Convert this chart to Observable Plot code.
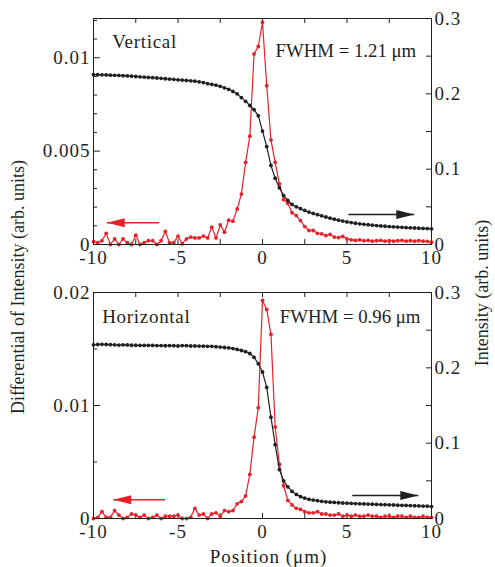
<!DOCTYPE html>
<html><head><meta charset="utf-8">
<script src="https://cdn.jsdelivr.net/npm/d3@7"></script>
<script src="https://cdn.jsdelivr.net/npm/@observablehq/plot@0.6"></script>
<style>
body{margin:0;background:#fff;}
#chart{position:relative;width:495px;height:567px;font-family:"Liberation Serif",serif;color:#231f20;overflow:hidden;}
.layer{position:absolute;left:0;}
.ylab{position:absolute;font-size:18px;white-space:nowrap;transform:translate(-50%,-50%) rotate(-90deg);}
</style></head><body><div id="chart"></div>
<script>
// ---- data ----
const positions = [-10,-9.75,-9.5,-9.25,-9,-8.75,-8.5,-8.25,-8,-7.75,-7.5,-7.25,-7,-6.75,-6.5,-6.25,-6,-5.75,-5.5,-5.25,-5,-4.75,-4.5,-4.25,-4,-3.75,-3.5,-3.25,-3,-2.75,-2.5,-2.25,-2,-1.75,-1.5,-1.25,-1,-0.75,-0.5,-0.25,0,0.25,0.5,0.75,1,1.25,1.5,1.75,2,2.25,2.5,2.75,3,3.25,3.5,3.75,4,4.25,4.5,4.75,5,5.25,5.5,5.75,6,6.25,6.5,6.75,7,7.25,7.5,7.75,8,8.25,8.5,8.75,9,9.25,9.5,9.75,10];

const vertDiff = [0.00015,0.0001,0.0002,0.0006,0.0,0.0003,0.0,0.0003,0.0001,0.0,
0.0005,0.0,0.0001,0.0002,0.0002,0.0,0.0002,0.0007,0.0001,0.0001,
0.00045,0.00004,0.0003,0.0004,0.00035,0.00035,0.00045,0.00035,0.00093,0.00035,
0.00105,0.00066,0.0013,0.00125,0.0019,0.0027,0.0044,0.0058,0.0102,0.0106,
0.0119,
0.0085,0.0056,0.0044,0.00325,0.0024,0.0022,0.0017,0.00155,0.00128,0.00096,
0.00075,0.00075,0.0006,0.00057,0.00048,0.00054,0.0004,0.00037,0.00043,0.0003,
0.00025,0.00022,0.00025,0.0002,0.00022,0.00018,0.0002,0.00022,0.00018,0.0002,
0.00018,0.0002,0.00022,0.00018,0.0002,0.00018,0.0002,0.00018,0.00017,0.00012];

const vertInt = [0.2255,0.2254,0.2252,0.2251,0.2248,0.2246,0.2244,0.2241,0.2238,0.2234,
0.2230,0.2226,0.2222,0.2218,0.2214,0.2210,0.2206,0.2200,0.2196,0.2192,
0.2186,0.2182,0.2178,0.2173,0.2168,0.2160,0.2150,0.2135,0.2125,0.2115,
0.2100,0.2080,0.2060,0.2032,0.2000,0.1950,0.1900,0.1845,0.1790,0.1710,
0.1505,
0.130,0.105,0.088,0.0753,0.065,0.0584,0.0531,0.0500,0.0475,0.0452,
0.0430,0.0412,0.0396,0.0380,0.0365,0.0350,0.0336,0.0323,0.0311,0.0300,
0.0291,0.0282,0.0275,0.0268,0.0262,0.0256,0.0251,0.0246,0.0242,0.0238,
0.0234,0.0231,0.0228,0.0225,0.0222,0.0219,0.0216,0.0213,0.0211,0.0208];

const horzDiff = [0.0000,0.0001,0.0006,0.0001,0.0001,0.0007,0.0003,0.0000,0.0001,0.0004,
0.0003,0.0001,0.0003,0.0000,0.0001,0.0003,0.0000,0.0002,0.0002,0.0002,
0.0003,0.0000,0.0000,0.0001,0.0009,0.0003,0.0004,0.0000,0.0004,0.0005,
0.0002,0.0007,0.0006,0.0007,0.0013,0.0015,0.0020,0.0039,0.0072,0.0098,
0.0193,
0.0185,0.0163,0.0081,0.0048,0.0029,0.0016,0.0012,0.0009,0.0008,0.0006,
0.0005,0.0005,0.0006,0.0004,0.0004,0.0003,0.0003,0.0004,0.0002,0.0003,
0.0002,0.0003,0.0002,0.0002,0.0003,0.0002,0.0002,0.0001,0.0002,0.0002,
0.0001,0.0002,0.0002,0.0001,0.0002,0.0001,0.0001,0.0002,0.0001,0.0001];

const horzInt = [0.2305,0.2310,0.2312,0.2310,0.2308,0.2305,0.2302,0.2305,0.2304,0.2300,
0.2300,0.2298,0.2298,0.2297,0.2298,0.2296,0.2295,0.2293,0.2295,0.2294,
0.2290,0.2295,0.2294,0.2290,0.2290,0.2289,0.2288,0.2286,0.2285,0.2280,
0.2275,0.2270,0.2265,0.2256,0.2245,0.2230,0.2215,0.2190,0.2140,0.2055,
0.1945,
0.1740,0.1345,0.0980,0.0650,0.0500,0.0420,0.0360,0.0320,0.0290,0.0270,
0.0255,0.0245,0.0236,0.0228,0.0222,0.0217,0.0213,0.0209,0.0206,0.0203,
0.0200,0.0198,0.0195,0.0193,0.0191,0.0189,0.0187,0.0185,0.0183,0.0181,
0.0179,0.0177,0.0175,0.0173,0.0171,0.0169,0.0167,0.0165,0.0163,0.0158];

const xLabelTicks = [-10,-5,0,5,10];
const xMinorTicks = [-7.5,-5,-2.5,0,2.5,5,7.5];
const vertLeftLabels = [0,0.005,0.01];
const vertLeftMajor = [0.005,0.01];
const vertLeftMinor = [0.001,0.002,0.003,0.004,0.006,0.007,0.008,0.009,0.011,0.012];
const horzLeftLabels = [0,0.01,0.02];
const horzLeftMajor = [0.01];
const horzLeftMinor = [0.005,0.015];
const rightLabels = [0,0.1,0.2,0.3];
const rightTicks = [0.05,0.1,0.15,0.2,0.25];

const vertArrows = {red:{x1:-6.12,x2:-9.22,y:0.00116}, black:{x1:5.08,x2:8.98,y:0.0398}};
const horzArrows = {red:{x1:-5.77,x2:-8.83,y:0.00165}, black:{x1:5.31,x2:9.22,y:0.0306}};

// ---- drawing ----
const RED = "#e8202a", INK = "#231f20";
const W = 495, ML = 93, MR = 64, MT = 18, PH = 226;
const PW = W - ML - MR;
const fmt = d => d < 0 ? "-" + (-d) : String(d);
const headLeft = {draw(ctx){ctx.moveTo(0,0);ctx.lineTo(18,-4.5);ctx.lineTo(18,4.5);ctx.closePath();}};
const headRight = {draw(ctx){ctx.moveTo(0,0);ctx.lineTo(-18,-4.5);ctx.lineTo(-18,4.5);ctx.closePath();}};
const style = {background:"none", overflow:"visible", fontFamily:"'Liberation Serif', serif", fontSize:"19px", color:INK};

function arrowMarks(a, color, head) {
  return [
    Plot.link([a], {x1:"x1", x2:"x2", y1:"y", y2:"y", stroke:color, strokeWidth:1.5}),
    Plot.dot([a], {x:"x2", y:"y", r:3, symbol:head, fill:color, stroke:"none"})
  ];
}

function spaceTexts(svg) {
  svg.querySelectorAll("text").forEach(t => {
    const s = t.textContent;
    t.setAttribute("letter-spacing", s.startsWith("FWHM") ? "0" : (s === "Vertical" || s === "Horizontal") ? "0.7" : "1");
  });
}

function panel(top, H, o) {
  const MB = H - MT - PH;
  const rows = positions.map((x, i) => ({x, d:o.diff[i], v:o.int[i]}));
  const common = {width:W, height:H, marginLeft:ML, marginRight:MR, marginTop:MT, marginBottom:MB, style};
  const left = Plot.plot({
    ...common,
    x:{domain:[-10,10]}, y:{domain:[0,o.leftMax]},
    marks:[
      Plot.tickX(xMinorTicks, {x:d=>d, stroke:INK, insetBottom:PH-5}),
      Plot.tickX(xMinorTicks, {x:d=>d, stroke:INK, insetTop:PH-5}),
      Plot.tickY(o.leftMinor, {y:d=>d, stroke:INK, insetRight:PW-4}),
      Plot.tickY(o.leftMajor, {y:d=>d, stroke:INK, insetRight:PW-7}),
      Plot.axisX({ticks:xLabelTicks, tickSize:0, tickPadding:6, tickFormat:fmt, label:null}),
      Plot.axisY({ticks:o.leftLabels, tickSize:0, tickPadding:3, tickFormat:fmt, label:null}),
      Plot.line(rows, {x:"x", y:"d", stroke:RED, strokeWidth:1.2}),
      Plot.dot(rows, {x:"x", y:"d", r:1.9, fill:RED}),
      ...arrowMarks(o.arrows.red, RED, headLeft),
      Plot.text([o.name], {text:d=>d, frameAnchor:"top-left", textAnchor:"start", lineAnchor:"bottom", dx:o.nameDx, dy:o.nameDy, fontSize:19, fill:INK}),
      Plot.text([o.fwhm], {text:d=>d, frameAnchor:"top-left", textAnchor:"start", lineAnchor:"bottom", dx:o.fwhmDx, dy:o.fwhmDy, fontSize:18.8, fill:INK}),
      ...(o.xlabel ? [Plot.text([o.xlabel], {text:d=>d, frameAnchor:"bottom", lineAnchor:"bottom", dx:6, dy:44, fontSize:19, fill:INK})] : []),
      Plot.frame({stroke:INK, strokeWidth:1})
    ]
  });
  const right = Plot.plot({
    ...common,
    x:{domain:[-10,10], axis:null}, y:{domain:[0,0.3]},
    marks:[
      Plot.tickY(rightTicks, {y:d=>d, stroke:INK, insetLeft:PW-5}),
      Plot.axisY({anchor:"right", ticks:rightLabels, tickSize:0, tickPadding:3, tickFormat:fmt, label:null}),
      Plot.line(rows, {x:"x", y:"v", stroke:INK, strokeWidth:1.2}),
      Plot.dot(rows, {x:"x", y:"v", r:1.9, fill:INK}),
      ...arrowMarks(o.arrows.black, INK, headRight)
    ]
  });
  spaceTexts(left);
  spaceTexts(right);
  for (const svg of [left, right]) {
    const wrap = document.createElement("div");
    wrap.className = "layer";
    wrap.style.top = top + "px";
    wrap.appendChild(svg);
    document.getElementById("chart").appendChild(wrap);
  }
}

panel(0, 270, {diff:vertDiff, int:vertInt, leftMax:0.0121, leftLabels:vertLeftLabels, leftMajor:vertLeftMajor, leftMinor:vertLeftMinor,
  arrows:vertArrows, name:"Vertical", nameDx:18.7, nameDy:29.7, fwhm:"FWHM = 1.21 μm", fwhmDx:182, fwhmDy:38});
panel(274, 293, {diff:horzDiff, int:horzInt, leftMax:0.02, leftLabels:horzLeftLabels, leftMajor:horzLeftMajor, leftMinor:horzLeftMinor,
  arrows:horzArrows, name:"Horizontal", nameDx:8.7, nameDy:30.7, fwhm:"FWHM = 0.96 μm", fwhmDx:186.3, fwhmDy:30.7, xlabel:"Position (μm)"});

const chart = document.getElementById("chart");
for (const [txt, x, y] of [["Differential of Intensity (arb. units)", 18, 287], ["Intensity (arb. units)", 482, 293]]) {
  const el = document.createElement("div");
  el.className = "ylab";
  el.textContent = txt;
  el.style.left = x + "px";
  el.style.top = y + "px";
  chart.appendChild(el);
}
</script></body></html>
